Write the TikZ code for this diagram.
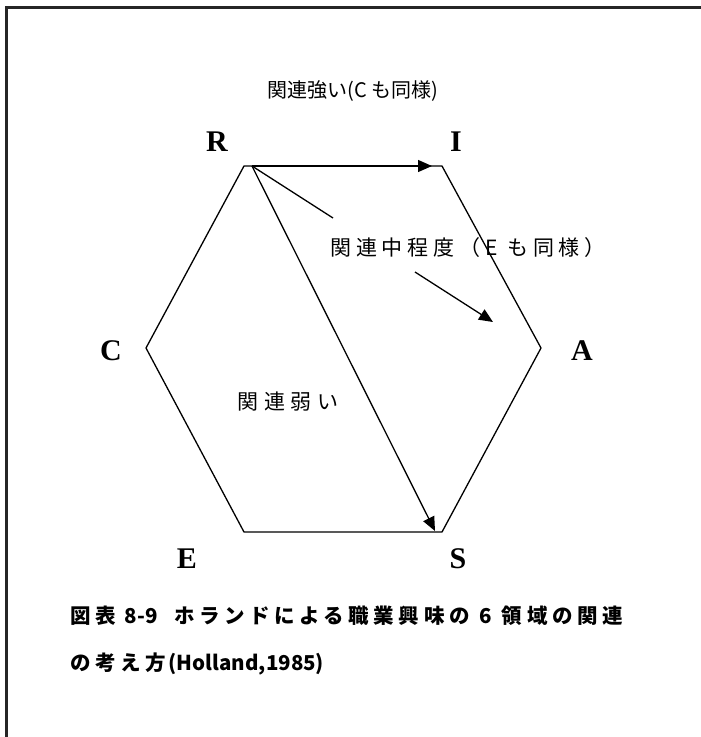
\documentclass[tikz,border=0pt]{standalone}
\usepackage{fontspec}
\usetikzlibrary{arrows.meta}
\newfontfamily\jp{Noto Sans CJK JP}
\newfontfamily\lat{Liberation Serif}
\newcommand{\jsp}[1]{{\addfontfeature{LetterSpace=22}#1}}
\begin{document}
\begin{tikzpicture}[x=1pt,y=-1pt,
  edge/.style={line width=1.3pt},
  arr/.style={edge,-{Triangle[length=14pt,width=12pt]}},
  vlabel/.style={font=\lat\bfseries\fontsize{30}{30}\selectfont,inner sep=0pt},
  toplabel/.style={font=\jp\fontsize{20}{20}\selectfont,inner sep=0pt},
  midlabel/.style={font=\jp\addfontfeature{LetterSpace=23}\fontsize{21}{21}\selectfont,inner sep=0pt},
  weaklabel/.style={font=\jp\addfontfeature{LetterSpace=27}\fontsize{21}{21}\selectfont,inner sep=0pt},
  captext/.style={font=\jp\bfseries\fontsize{20.5}{20.5}\selectfont,inner sep=0pt,anchor=west}]
\useasboundingbox (0,0) rectangle (701,737);
% frame
\coordinate (fb) at (6.5,737);
\coordinate (ftl) at (6.5,7.5);
\coordinate (ftr) at (701,7.5);
\draw[line width=2.5pt,gray!30!black] (fb) -- (ftl) -- (ftr);
% hexagon vertices
\coordinate (vR) at (244,166);
\coordinate (vI) at (442,166);
\coordinate (vA) at (541,348);
\coordinate (vS) at (442,532);
\coordinate (vE) at (244,532);
\coordinate (vC) at (146,348);
\draw[edge,line join=miter] (vR) -- (vI) -- (vA) -- (vS) -- (vE) -- (vC) -- cycle;
% arrows
\coordinate (o) at (252,166);
\coordinate (tI) at (432,166);
\coordinate (tS) at (435,531);
\coordinate (m1) at (333,218);
\coordinate (m2) at (415,272);
\coordinate (m3) at (493,322);
\draw[arr] (o) -- (tI);
\draw[arr] (o) -- (tS);
\draw[edge] (o) -- (m1);
\draw[arr] (m2) -- (m3);
% vertex labels
\node[vlabel] (R) at (217,142) {R};
\node[vlabel] (I) at (456,142) {I};
\node[vlabel] (C) at (111,351) {C};
\node[vlabel] (A) at (582,351) {A};
\node[vlabel] (E) at (187,559) {E};
\node[vlabel] (S) at (458,559) {S};
% relation labels
\node[toplabel] (strong) at (353,91) {関連強い(C も同様)};
\node[midlabel] (mid) at (468,248) {関連中程度（E も同様）};
\node[weaklabel] (weak) at (288,402) {関連弱い};
% caption
\node[captext] (cap1) at (70,616) {\jsp{図表}\hspace{9pt}8-9\hspace{17pt}\jsp{ホランドによる職業興味の}\hspace{10pt}6\hspace{10pt}\jsp{領域の関連}};
\node[captext] (cap2) at (70,664) {\jsp{の考え方}\hspace{3pt}(Holland,1985)};
\end{tikzpicture}
\end{document}
